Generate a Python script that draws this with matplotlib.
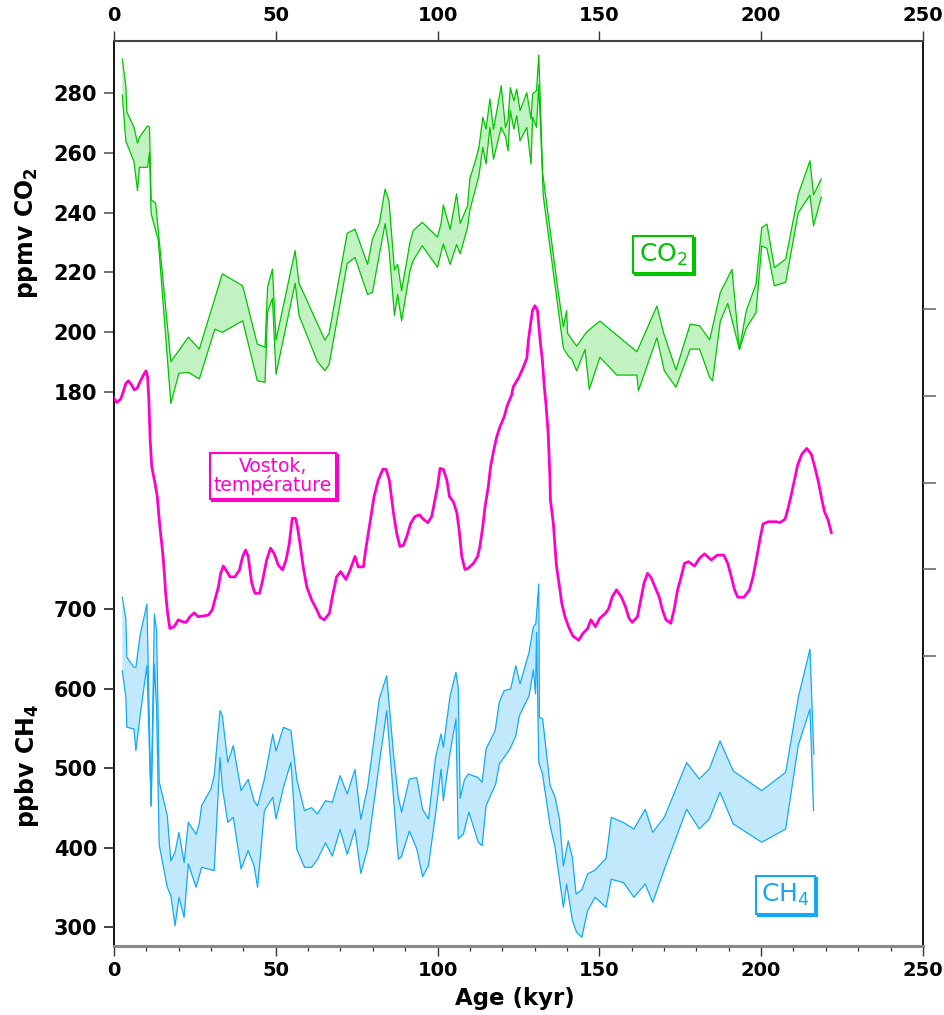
import numpy as np
import matplotlib
matplotlib.use('Agg')
import matplotlib.pyplot as plt
from matplotlib.ticker import MultipleLocator
from matplotlib.transforms import offset_copy

plt.rcParams['font.family'] = ['DejaVu Sans']
plt.rcParams['font.weight'] = 'bold'
plt.rcParams['mathtext.default'] = 'regular'

# Vostok ice core: CO2 and CH4 envelopes (age kyr, value) and temperature anomaly
co2_upper = [(2.6, 291.5), (3.7, 282.2), (4.0, 273.8), (6.2, 268.6), (7.3, 263.3), (7.9, 265.3),
             (10.4, 269.1), (11.0, 268.6), (11.5, 244.3), (12.9, 243.2), (17.6, 190.1), (23.0, 198.3),
             (26.4, 194.3), (33.5, 219.5), (39.8, 215.5), (44.3, 196.0), (46.7, 194.9), (47.5, 215.2),
             (49.0, 221.1), (50.1, 197.3), (56.0, 227.3), (57.2, 216.4), (65.2, 197.3), (66.5, 199.6),
             (72.1, 233.1), (74.5, 234.5), (78.4, 222.7), (79.9, 231.2), (82.0, 236.3), (83.8, 247.9),
             (85.0, 244.0), (86.7, 220.8), (87.7, 222.7), (88.9, 213.9), (91.5, 230.0), (92.5, 234.0),
             (95.3, 236.8), (100.0, 231.8), (101.1, 236.4), (101.8, 242.6), (103.9, 234.4), (105.9, 246.3),
             (107.0, 236.4), (109.3, 242.3), (110.0, 251.5), (111.6, 256.9), (112.8, 261.9), (114.0, 272.0),
             (115.0, 268.0), (116.2, 278.1), (117.3, 267.9), (119.7, 282.5), (121.0, 268.6), (121.8, 271.1),
             (122.5, 281.9), (123.6, 277.5), (124.5, 281.4), (125.5, 274.2), (127.6, 280.2), (128.9, 271.4),
             (129.4, 279.8), (130.6, 280.9), (131.3, 292.8), (132.5, 253.2), (137.3, 213.5), (138.9, 201.8),
             (139.9, 207.2), (140.2, 199.6), (143.0, 195.3), (146.1, 200.1), (150.2, 203.7), (161.6, 193.4),
             (167.8, 208.7), (169.9, 199.6), (173.7, 187.3), (178.1, 202.7), (181.0, 202.1), (184.1, 197.4),
             (187.4, 213.3), (191.0, 221.0), (193.3, 194.2), (195.4, 207.1), (198.4, 216.0), (200.2, 235.0),
             (201.8, 236.2), (204.1, 221.6), (207.6, 224.5), (211.5, 246.2), (215.1, 257.4), (216.2, 246.0),
             (218.6, 251.3)]

co2_lower = [(2.6, 279.4), (3.7, 263.8), (4.0, 263.2), (6.2, 257.1), (7.3, 247.4), (7.9, 255.2),
             (10.4, 255.2), (11.0, 260.2), (11.5, 239.8), (12.9, 234.0), (13.7, 230.9), (17.6, 176.1),
             (20.1, 186.2), (23.0, 186.5), (26.4, 184.3), (31.2, 201.0), (33.5, 199.9), (39.8, 203.8),
             (44.3, 183.7), (46.7, 183.2), (47.5, 206.8), (49.0, 211.3), (50.1, 185.9), (56.0, 216.4),
             (57.2, 205.6), (62.9, 190.1), (65.2, 187.1), (66.5, 189.1), (72.1, 223.0), (74.5, 225.0),
             (78.4, 212.6), (79.9, 213.3), (82.0, 225.8), (83.8, 236.3), (85.0, 228.1), (86.7, 205.6),
             (87.7, 212.6), (88.9, 203.8), (91.5, 220.6), (92.5, 224.0), (95.3, 228.9), (100.0, 221.7),
             (101.1, 226.6), (101.8, 229.5), (103.9, 222.7), (105.9, 229.3), (107.0, 226.2), (109.3, 235.1),
             (110.0, 240.9), (111.6, 247.4), (112.8, 252.4), (114.0, 261.9), (115.0, 256.3), (116.2, 268.6),
             (117.3, 257.9), (119.7, 268.6), (121.0, 265.5), (121.8, 260.7), (122.5, 274.2), (123.6, 268.0),
             (124.5, 272.5), (125.5, 264.1), (127.6, 268.6), (128.9, 256.3), (129.4, 272.0), (130.6, 268.6),
             (131.3, 282.8), (132.7, 245.4), (137.6, 205.2), (138.9, 194.6), (140.4, 192.0), (141.5, 190.9),
             (143.0, 187.0), (145.6, 194.2), (146.9, 180.8), (150.2, 191.6), (155.4, 185.6), (161.6, 185.6),
             (162.1, 180.4), (167.8, 198.1), (170.1, 187.0), (173.7, 181.5), (178.1, 194.3), (181.0, 194.3),
             (184.1, 184.8), (185.0, 183.7), (187.4, 203.7), (189.7, 209.6), (193.3, 194.2), (195.4, 201.3),
             (198.4, 206.5), (200.2, 228.8), (201.8, 228.1), (204.1, 215.5), (207.6, 216.7), (211.5, 240.0),
             (215.1, 245.9), (216.2, 235.6), (218.6, 245.2)]

ch4_upper = [(2.6, 714.7), (3.7, 687.1), (4.0, 639.3), (6.2, 626.7), (6.8, 626.7), (8.1, 667.3),
             (10.2, 706.3), (11.5, 452.5), (12.5, 693.7), (13.2, 672.8), (14.0, 483.1), (16.5, 440.0),
             (17.6, 383.4), (18.9, 394.3), (20.1, 419.5), (21.7, 381.3), (23.0, 432.0), (25.4, 416.9),
             (26.4, 430.8), (27.1, 452.9), (30.0, 473.9), (31.0, 490.6), (32.8, 572.3), (33.5, 565.9),
             (35.2, 507.4), (36.9, 528.3), (39.3, 471.8), (41.5, 486.0), (43.3, 459.1), (44.4, 452.5),
             (46.5, 486.0), (49.1, 542.6), (50.1, 521.6), (52.4, 551.4), (54.7, 547.2), (56.5, 486.4),
             (58.9, 446.6), (61.1, 450.4), (62.9, 442.4), (65.4, 459.1), (67.5, 457.1), (69.9, 490.6),
             (72.1, 467.6), (74.5, 498.6), (76.3, 435.8), (78.4, 476.0), (80.5, 539.6), (82.0, 586.9),
             (84.3, 616.2), (86.4, 517.8), (87.9, 463.4), (88.9, 444.6), (91.3, 486.4), (93.6, 488.1),
             (95.4, 448.3), (97.2, 436.2), (99.4, 513.6), (101.1, 543.0), (101.8, 526.3), (103.9, 591.0),
             (105.7, 620.5), (106.4, 601.6), (107.0, 462.2), (108.3, 485.2), (109.5, 492.7), (112.4, 488.5),
             (113.8, 482.3), (115.0, 524.1), (117.8, 547.2), (119.1, 582.8), (120.6, 597.4), (122.6, 599.5),
             (124.2, 628.8), (125.5, 605.8), (128.3, 645.6), (129.6, 677.0), (130.4, 682.0), (131.3, 731.4),
             (131.5, 563.9), (132.5, 561.8), (134.8, 478.0), (136.3, 464.2), (137.7, 436.2), (138.9, 377.1),
             (140.4, 408.6), (141.7, 387.6), (142.8, 341.9), (144.6, 347.0), (146.4, 367.1), (148.7, 372.1),
             (152.1, 386.8), (153.7, 438.3), (157.5, 431.5), (160.7, 423.6), (164.2, 448.3), (166.5, 419.5),
             (170.1, 438.3), (177.0, 506.9), (180.9, 486.4), (184.0, 499.0), (187.3, 534.2), (191.4, 496.5),
             (200.2, 471.8), (207.6, 494.8), (211.5, 589.0), (215.1, 649.4), (216.3, 517.8)]

ch4_lower = [(2.6, 622.1), (3.7, 589.0), (4.0, 551.4), (6.2, 549.2), (6.8, 522.0), (8.1, 565.9),
             (10.2, 628.8), (11.5, 452.5), (12.5, 630.9), (13.2, 573.1), (14.0, 403.5), (16.5, 350.4),
             (17.6, 339.9), (18.9, 302.1), (20.1, 337.8), (21.7, 312.7), (23.0, 379.6), (25.4, 350.4),
             (26.4, 365.0), (27.1, 375.5), (31.0, 371.3), (32.8, 513.6), (33.5, 476.0), (35.2, 432.0),
             (36.9, 438.3), (39.3, 373.4), (41.5, 396.4), (43.3, 377.5), (44.4, 350.4), (46.5, 446.6),
             (49.1, 463.4), (50.1, 436.2), (52.4, 476.0), (54.7, 507.4), (56.5, 398.5), (58.9, 375.5),
             (61.1, 375.5), (62.9, 385.4), (65.4, 406.3), (67.5, 389.5), (69.9, 423.0), (72.1, 391.6),
             (74.5, 423.0), (76.3, 367.8), (78.4, 398.5), (82.0, 505.3), (84.3, 572.1), (86.4, 463.4),
             (87.9, 385.4), (88.9, 389.5), (91.3, 420.9), (93.6, 398.5), (95.4, 363.7), (97.2, 377.5),
             (99.4, 442.4), (101.1, 498.7), (101.8, 459.1), (103.9, 520.0), (105.7, 561.8), (106.4, 411.1),
             (108.0, 417.3), (109.7, 444.6), (112.6, 406.9), (113.8, 402.6), (115.0, 452.9), (118.0, 480.2),
             (119.1, 505.3), (122.4, 524.1), (124.2, 540.8), (125.3, 565.9), (128.3, 591.0), (129.6, 623.4),
             (130.3, 593.2), (130.6, 670.7), (131.3, 506.9), (132.4, 493.6), (134.8, 427.8), (136.3, 401.4),
             (138.9, 325.2), (139.9, 354.5), (141.7, 308.4), (143.0, 293.8), (144.6, 287.6), (146.4, 321.0),
             (148.7, 337.8), (152.1, 325.2), (153.7, 360.4), (157.5, 356.2), (160.7, 337.8), (164.2, 354.5),
             (166.5, 331.5), (170.1, 373.0), (177.0, 448.4), (180.9, 423.6), (184.0, 436.2), (187.3, 469.7),
             (191.4, 429.9), (200.2, 406.9), (207.6, 423.6), (211.5, 529.1), (215.1, 574.0), (216.2, 446.6)]

temperature = [(0.0, -0.05), (0.9, -0.15), (2.1, -0.07), (2.9, 0.10), (3.7, 0.29), (4.5, 0.35),
               (5.5, 0.25), (6.3, 0.14), (7.2, 0.18), (8.1, 0.33), (9.1, 0.48), (9.9, 0.58), (10.4, 0.45),
               (10.8, -0.09), (11.2, -1.01), (11.7, -1.63), (12.7, -2.01), (13.4, -2.32), (14.2, -3.01),
               (15.1, -3.63), (15.6, -4.09), (16.0, -4.55), (16.6, -5.01), (17.3, -5.36), (18.6, -5.32),
               (19.9, -5.16), (21.0, -5.20), (22.3, -5.22), (23.5, -5.09), (24.8, -5.00), (26.1, -5.09),
               (27.6, -5.07), (29.2, -5.05), (30.4, -4.93), (31.2, -4.70), (32.3, -4.40), (33.0, -4.09),
               (33.8, -3.92), (34.6, -4.01), (35.9, -4.17), (37.4, -4.17), (38.8, -4.01), (39.8, -3.70),
               (40.7, -3.55), (41.5, -3.70), (42.6, -4.32), (43.6, -4.55), (45.0, -4.55), (46.0, -4.24),
               (47.2, -3.78), (48.4, -3.51), (49.5, -3.63), (50.8, -3.90), (52.1, -4.01), (53.2, -3.78),
               (54.2, -3.40), (55.1, -2.82), (56.1, -2.82), (56.7, -3.01), (57.5, -3.40), (58.5, -3.94),
               (59.6, -4.40), (61.1, -4.70), (62.7, -4.93), (63.7, -5.10), (65.0, -5.16), (66.6, -5.01),
               (67.5, -4.63), (68.8, -4.17), (70.1, -4.05), (71.7, -4.23), (73.0, -4.01), (74.5, -3.70),
               (75.5, -3.94), (77.1, -3.94), (77.8, -3.55), (78.6, -3.17), (79.4, -2.78), (80.4, -2.32),
               (81.7, -1.94), (83.1, -1.69), (84.1, -1.69), (85.1, -1.94), (86.4, -2.70), (87.4, -3.17),
               (88.4, -3.47), (89.5, -3.44), (90.5, -3.24), (91.7, -2.94), (93.0, -2.78), (94.4, -2.74),
               (95.6, -2.84), (97.0, -2.92), (98.2, -2.78), (99.0, -2.47), (100.0, -2.09), (100.8, -1.67),
               (101.8, -1.69), (102.9, -1.94), (103.7, -2.32), (104.9, -2.44), (106.0, -2.70), (106.8, -3.17),
               (107.5, -3.70), (108.5, -4.00), (109.5, -3.97), (111.1, -3.86), (112.4, -3.70), (113.1, -3.47),
               (114.0, -3.01), (114.7, -2.55), (115.7, -2.09), (116.4, -1.63), (117.3, -1.28), (118.3, -0.94),
               (119.3, -0.71), (120.6, -0.48), (121.6, -0.21), (122.9, 0.02), (123.4, 0.21), (125.0, 0.41),
               (126.4, 0.64), (127.6, 0.87), (128.1, 1.29), (128.8, 1.68), (129.4, 1.98), (130.1, 2.08),
               (130.9, 1.97), (131.7, 1.29), (132.4, 0.83), (133.0, 0.21), (133.5, -0.17), (134.2, -0.86),
               (134.7, -1.78), (134.9, -2.40), (135.8, -2.94), (136.3, -3.47), (136.8, -3.94), (137.7, -4.40),
               (138.4, -4.78), (139.4, -5.09), (140.5, -5.32), (141.8, -5.53), (143.6, -5.63), (145.0, -5.47),
               (146.4, -5.36), (147.4, -5.16), (148.8, -5.32), (150.1, -5.13), (151.9, -5.01), (152.9, -4.90),
               (154.0, -4.63), (155.3, -4.47), (156.8, -4.63), (158.1, -4.86), (159.2, -5.13), (160.2, -5.22),
               (161.8, -5.09), (162.8, -4.70), (163.8, -4.32), (164.9, -4.09), (165.9, -4.17), (167.2, -4.40),
               (168.5, -4.63), (169.5, -4.93), (170.6, -5.16), (172.1, -5.24), (173.1, -4.93), (174.2, -4.47),
               (175.3, -4.17), (176.3, -3.86), (177.6, -3.82), (179.4, -3.92), (181.0, -3.74), (182.5, -3.64),
               (184.6, -3.78), (186.4, -3.67), (188.5, -3.67), (189.7, -3.86), (190.8, -4.17), (191.8, -4.47),
               (192.8, -4.64), (194.7, -4.64), (196.4, -4.47), (197.5, -4.17), (198.5, -3.78), (199.6, -3.32),
               (200.6, -2.95), (202.2, -2.90), (204.8, -2.90), (205.8, -2.92), (207.4, -2.84), (208.2, -2.63),
               (209.2, -2.32), (210.3, -1.94), (211.3, -1.59), (212.6, -1.34), (214.1, -1.21), (215.5, -1.34),
               (216.7, -1.67), (217.8, -2.01), (218.8, -2.40), (219.6, -2.67), (220.7, -2.86), (221.7, -3.15)]

co2_ticks = [180, 200, 220, 240, 260, 280]
ch4_ticks = [300, 400, 500, 600, 700]
temp_ticks = [2, 0, -2, -4, -6]
age_ticks = [0, 50, 100, 150, 200, 250]

GREEN, GREEN_FILL = '#00c400', '#c2f2c2'
BLUE, BLUE_FILL = '#12aaf5', '#c2e8fb'
MAGENTA = '#ff00cc'


def envelope(ax, upper, lower, line_color, fill_color):
    up = np.array(upper).T
    lo = np.array(lower).T
    ax.fill(np.r_[up[0], lo[0][::-1]], np.r_[up[1], lo[1][::-1]],
            facecolor=fill_color, edgecolor='none', zorder=1)
    ax.plot(up[0], up[1], color=line_color, lw=0.9, zorder=2)
    ax.plot(lo[0], lo[1], color=line_color, lw=0.9, zorder=2)


def boxed_label(ax, x, y, text, color, size, **kw):
    # offset frame behind the main one gives the double border
    shadow = offset_copy(ax.transData, fig=ax.figure, x=2, y=-2, units='dots')
    ax.text(x, y, text, transform=shadow, color='none', fontsize=size, fontweight='normal',
            ha='center', va='center', zorder=5,
            bbox=dict(boxstyle='square,pad=0.22', fc='none', ec=color, lw=1.5), **kw)
    ax.text(x, y, text, color=color, fontsize=size, fontweight='normal',
            ha='center', va='center', zorder=6,
            bbox=dict(boxstyle='square,pad=0.22', fc='white', ec=color, lw=1.5), **kw)


fig = plt.figure(figsize=(9.44, 10.15), dpi=100)
rect = [113.9 / 944, 69 / 1015, 809 / 944, 905.3 / 1015]

# CO2 axis carries the frame and the age axes
ax = fig.add_axes(rect)
ax_ch4 = ax.twinx()
ax_t = ax.twinx()

ax.set_xlim(0, 250)
ax.set_ylim(-5.66, 297.62)
ax_ch4.set_ylim(276.6, 1413.9)
ax_t.set_ylim(-12.68, 8.19)

envelope(ax, co2_upper, co2_lower, GREEN, GREEN_FILL)
envelope(ax_ch4, ch4_upper, ch4_lower, BLUE, BLUE_FILL)
temp = np.array(temperature).T
ax_t.plot(temp[0], temp[1], color=MAGENTA, lw=2.0, zorder=3)

# x axes (bottom with minor ticks, top with majors only)
ax.set_xticks(age_ticks)
ax.xaxis.set_minor_locator(MultipleLocator(10))
ax.tick_params(axis='x', which='major', top=True, labeltop=True, direction='out',
               length=7, width=1.0, labelsize=14, pad=4, color='#333333')
ax.tick_params(axis='x', which='minor', top=False, direction='out', length=3.5, width=0.9,
               color='#333333')

# left axes
ax.set_yticks(co2_ticks)
ax.tick_params(axis='y', direction='out', length=7, width=1.3, labelsize=15, pad=5, color='#666666')
ax_ch4.yaxis.tick_left()
ax_ch4.set_yticks(ch4_ticks)
ax_ch4.tick_params(axis='y', direction='out', length=7, width=1.3, labelsize=15, pad=5, color='#333333')

# temperature scale on the right: ticks only
ax_t.set_yticks(temp_ticks)
ax_t.tick_params(axis='y', direction='out', length=9.5, width=1.3, labelright=False,
                 color='#777777')

for a in (ax_ch4, ax_t):
    for s in a.spines.values():
        s.set_visible(False)
ax.spines['left'].set_color('black')
ax.spines['left'].set_linewidth(1.3)
ax.spines['right'].set_color('black')
ax.spines['right'].set_linewidth(1.3)
ax.spines['top'].set_color('#444444')
ax.spines['top'].set_linewidth(1.5)
ax.spines['bottom'].set_color('#8a8a8a')
ax.spines['bottom'].set_linewidth(2.2)

boxed_label(ax, 169.8, 226.0, 'CO$_2$', GREEN, 18)
boxed_label(ax_t, 49.2, -1.84, 'Vostok,\ntempérature', MAGENTA, 13.5, linespacing=0.95)
boxed_label(ax_ch4, 207.5, 340.7, 'CH$_4$', BLUE, 18)

fig.text(27 / 944, 1 - 233 / 1015, 'ppmv CO$_2$', rotation=90, ha='center', va='center',
         fontsize=17, fontweight='bold')
fig.text(27 / 944, 1 - 766 / 1015, 'ppbv CH$_4$', rotation=90, ha='center', va='center',
         fontsize=17, fontweight='bold')
fig.text(515 / 944, 1 - 999 / 1015, 'Age (kyr)', ha='center', va='center',
         fontsize=16.5, fontweight='bold')

fig.savefig('out.png', dpi=100)
